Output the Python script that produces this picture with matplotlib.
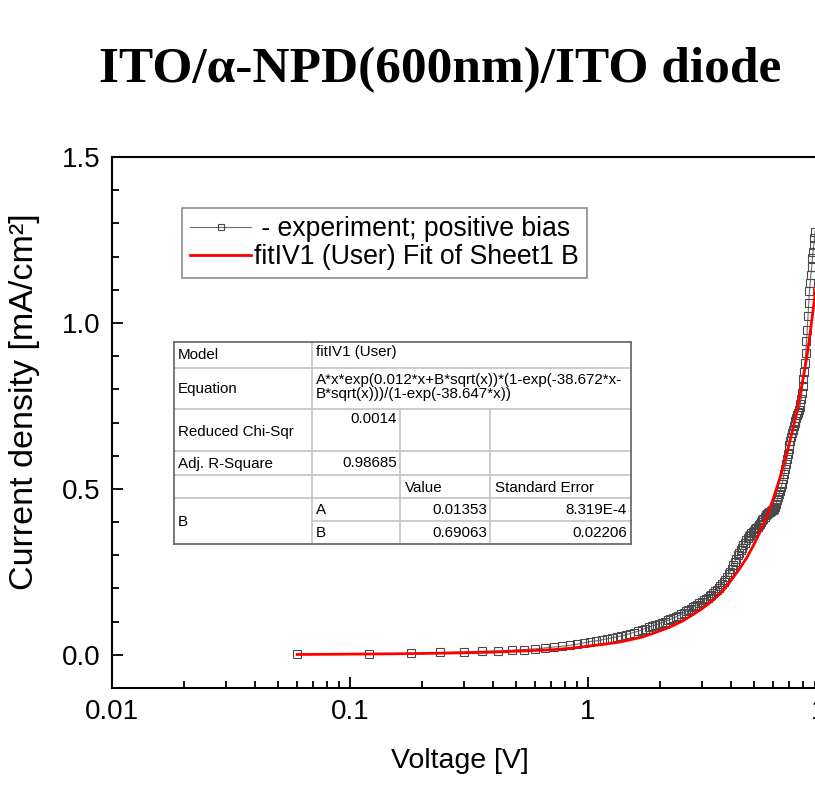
import matplotlib
matplotlib.use("Agg")
import matplotlib.pyplot as plt
from matplotlib.lines import Line2D
from matplotlib.ticker import LogLocator, MultipleLocator, FixedLocator, FixedFormatter

plt.rcParams['font.family'] = ['Liberation Sans', 'DejaVu Sans']

# experiment: positive bias (V, mA/cm2)
voltage = [0.06, 0.12, 0.18, 0.24, 0.30, 0.36, 0.42, 0.48, 0.54, 0.60,
           0.66, 0.72, 0.78, 0.84, 0.90, 0.96, 1.02, 1.08, 1.14, 1.20,
           1.26, 1.32, 1.38, 1.44, 1.50, 1.56, 1.62, 1.68, 1.74, 1.80,
           1.86, 1.92, 1.98, 2.04, 2.10, 2.16, 2.22, 2.28, 2.34, 2.40,
           2.46, 2.52, 2.58, 2.64, 2.70, 2.76, 2.82, 2.88, 2.94, 3.00,
           3.06, 3.12, 3.18, 3.24, 3.30, 3.36, 3.42, 3.48, 3.54, 3.60,
           3.66, 3.72, 3.78, 3.84, 3.90, 3.96, 4.02, 4.08, 4.14, 4.20,
           4.26, 4.32, 4.38, 4.44, 4.50, 4.56, 4.62, 4.68, 4.74, 4.80,
           4.86, 4.92, 4.98, 5.04, 5.10, 5.16, 5.22, 5.28, 5.34, 5.40,
           5.46, 5.52, 5.58, 5.64, 5.70, 5.76, 5.82, 5.88, 5.94, 6.00,
           6.06, 6.12, 6.18, 6.24, 6.30, 6.36, 6.42, 6.48, 6.54, 6.60,
           6.66, 6.72, 6.78, 6.84, 6.90, 6.96, 7.02, 7.08, 7.14, 7.20,
           7.26, 7.32, 7.38, 7.44, 7.50, 7.56, 7.62, 7.68, 7.74, 7.80,
           7.86, 7.92, 7.98, 8.04, 8.10, 8.16, 8.22, 8.28, 8.34, 8.40,
           8.46, 8.52, 8.58, 8.64, 8.70, 8.76, 8.82, 8.88, 8.94, 9.00]
current = [0.002, 0.003, 0.004, 0.007, 0.009, 0.011, 0.012, 0.014, 0.016, 0.018,
           0.021, 0.024, 0.026, 0.029, 0.032, 0.036, 0.040, 0.042, 0.045, 0.048,
           0.051, 0.054, 0.057, 0.060, 0.064, 0.067, 0.071, 0.075, 0.079, 0.083,
           0.087, 0.090, 0.093, 0.097, 0.100, 0.104, 0.107, 0.111, 0.114, 0.118,
           0.122, 0.127, 0.131, 0.135, 0.139, 0.143, 0.147, 0.151, 0.156, 0.160,
           0.164, 0.168, 0.172, 0.176, 0.181, 0.186, 0.191, 0.196, 0.201, 0.207,
           0.213, 0.219, 0.226, 0.234, 0.242, 0.251, 0.260, 0.270, 0.280, 0.290,
           0.300, 0.308, 0.315, 0.322, 0.330, 0.338, 0.346, 0.352, 0.357, 0.362,
           0.366, 0.370, 0.374, 0.378, 0.382, 0.386, 0.390, 0.395, 0.400, 0.405,
           0.410, 0.415, 0.420, 0.424, 0.427, 0.429, 0.431, 0.433, 0.435, 0.437,
           0.440, 0.445, 0.455, 0.466, 0.476, 0.486, 0.495, 0.505, 0.515, 0.530,
           0.545, 0.560, 0.575, 0.590, 0.605, 0.620, 0.632, 0.645, 0.657, 0.668,
           0.678, 0.688, 0.697, 0.706, 0.714, 0.722, 0.730, 0.738, 0.746, 0.755,
           0.770, 0.790, 0.810, 0.830, 0.852, 0.880, 0.910, 0.945, 0.980, 1.020,
           1.060, 1.095, 1.120, 1.145, 1.170, 1.195, 1.215, 1.235, 1.255, 1.275]

# fitIV1 curve
fit_v = [0.06, 0.1, 0.15, 0.2, 0.3, 0.4, 0.55, 0.7, 0.85, 1.0,
         1.2, 1.35, 1.5, 1.7, 1.9, 2.2, 2.5, 2.76, 3.0, 3.2,
         3.45, 3.69, 4.0, 4.3, 4.65, 5.0, 5.3, 5.65, 6.0, 6.41,
         6.8, 7.26, 7.6, 8.0, 8.32, 8.6, 8.81, 9.0, 9.3, 9.6]
fit_j = [0.001, 0.002, 0.003, 0.004, 0.006, 0.008, 0.012, 0.015, 0.020, 0.026,
         0.033, 0.038, 0.045, 0.054, 0.066, 0.083, 0.102, 0.121, 0.138, 0.153,
         0.173, 0.193, 0.225, 0.256, 0.293, 0.335, 0.372, 0.418, 0.470, 0.534,
         0.600, 0.680, 0.745, 0.830, 0.900, 0.975, 1.035, 1.085, 1.170, 1.260]

# fit report table
table_rows = [("Model", "fitIV1 (User)"),
              ("Equation", "A*x*exp(0.012*x+B*sqrt(x))*(1-exp(-38.672*x-\nB*sqrt(x)))/(1-exp(-38.647*x))")]
chi_sqr = "0.0014"
adj_r2 = "0.98685"
param_names = ["A", "B"]
param_values = ["0.01353", "0.69063"]
param_errors = ["8.319E-4", "0.02206"]

W, H = 815, 786
fig = plt.figure(figsize=(W / 100, H / 100), dpi=100)

def fx(px):
    return px / W

def fy(py):
    return 1 - py / H

# axes runs past the right edge of the picture (10 V is cut off)
ax = fig.add_axes([fx(112), fy(688), fx(826) - fx(112), fy(157) - fy(688)])

ax.plot(voltage, current, color='#707070', lw=0.8, marker='s', ms=5.8,
        mfc='none', mec='#4a4a4a', mew=0.8, label=' - experiment; positive bias')
ax.plot(fit_v, fit_j, color='#ff0000', lw=2.0, label='fitIV1 (User) Fit of Sheet1 B')

ax.set_xscale('log')
ax.set_xlim(0.01, 10)
ax.set_ylim(-0.1, 1.5)
ax.xaxis.set_major_locator(FixedLocator([0.01, 0.1, 1, 10]))
ax.xaxis.set_major_formatter(FixedFormatter(['0.01', '0.1', '1', '10']))
ax.xaxis.set_minor_locator(LogLocator(base=10, subs=range(2, 10)))
ax.yaxis.set_major_locator(FixedLocator([0.0, 0.5, 1.0, 1.5]))
ax.yaxis.set_major_formatter(FixedFormatter(['0.0', '0.5', '1.0', '1.5']))
ax.yaxis.set_minor_locator(MultipleLocator(0.1))

ax.tick_params(which='both', direction='in', top=False, right=False, width=1.3)
ax.tick_params(which='major', length=8, labelsize=20, pad=8)
ax.tick_params(which='minor', length=5)
for s in ax.spines.values():
    s.set_linewidth(1.5)

ax.set_xlabel('Voltage [V]', fontsize=20.5)
ax.set_ylabel('Current density [mA/cm²]', fontsize=24.5)
ax.xaxis.set_label_coords((460 - 112) / 714, (688 - 748) / 531)
ax.yaxis.set_label_coords((40 - 112) / 714, (688 - 402) / 531)

fig.text(fx(440), fy(70), 'ITO/α-NPD(600nm)/ITO diode', ha='center', va='center',
         fontsize=37, fontweight='bold', family=['Liberation Serif', 'DejaVu Serif'])

leg = ax.legend(loc='upper left', bbox_to_anchor=(fx(182), fy(208)),
                bbox_transform=fig.transFigure, borderaxespad=0, fontsize=19.2,
                frameon=True, fancybox=False, edgecolor='#707070',
                handlelength=2.3, handletextpad=0.1, labelspacing=0.08,
                borderpad=0.3, markerscale=0.75)
leg.get_frame().set_linewidth(1.2)

# fit report table drawn in figure pixels
tl, tr, tt, tb = 174, 631, 342, 544
c1, c2, c3 = 312, 400, 490
grid = '#c4c4c4'

def hline(y, x0, x1, color=grid, lw=1.2):
    fig.add_artist(Line2D([fx(x0), fx(x1)], [fy(y), fy(y)], color=color, lw=lw))

def vline(x, y0, y1, color=grid, lw=1.2):
    fig.add_artist(Line2D([fx(x), fx(x)], [fy(y0), fy(y1)], color=color, lw=lw))

for y in [368, 409, 451, 475, 498]:
    hline(y, tl, tr)
hline(521, c1, tr)
vline(c1, tt, tb)
vline(c2, 409, tb)
vline(c3, 409, tb)
hline(tt, tl, tr, '#606060', 1.2)
hline(tb, tl, tr, '#606060', 1.2)
vline(tl, tt, tb, '#606060', 1.2)
vline(tr, tt, tb, '#606060', 1.2)

tfs = 10.9

def cell(x, y, s, ha='left'):
    fig.text(fx(x), fy(y), s, ha=ha, va='center', fontsize=tfs, linespacing=1.0)

cell(178, 355, table_rows[0][0])
cell(316, 352, table_rows[0][1])
cell(178, 389, table_rows[1][0])
cell(316, 387, table_rows[1][1])
cell(178, 432, "Reduced Chi-Sqr")
cell(397, 419, chi_sqr, 'right')
cell(178, 464, "Adj. R-Square")
cell(397, 463, adj_r2, 'right')
cell(405, 488, "Value")
cell(495, 488, "Standard Error")
cell(178, 522, "B")
for i, yy in enumerate([510, 533]):
    cell(316, yy, param_names[i])
    cell(487, yy, param_values[i], 'right')
    cell(627, yy, param_errors[i], 'right')

fig.savefig('out.png', dpi=100)
